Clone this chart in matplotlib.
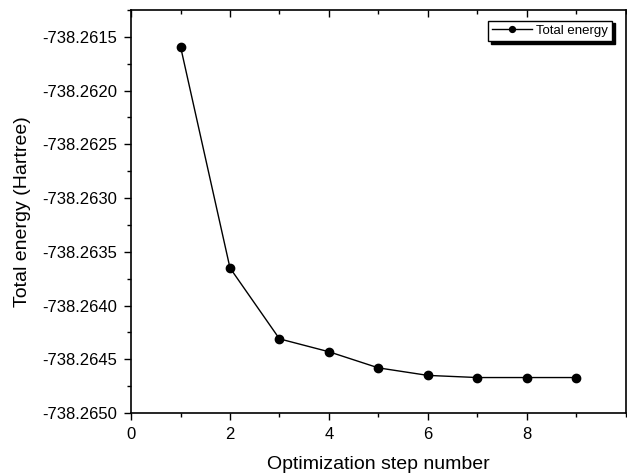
import matplotlib
matplotlib.use("Agg")
import matplotlib.pyplot as plt
from matplotlib.ticker import MultipleLocator, FormatStrFormatter, FixedLocator

plt.rcParams['font.family'] = ['Liberation Sans', 'DejaVu Sans']

# optimization steps and total energy (Hartree)
steps = [1, 2, 3, 4, 5, 6, 7, 8, 9]
energy = [-738.26159, -738.26365, -738.26431, -738.26443, -738.26458,
          -738.26465, -738.26467, -738.26467, -738.26467]
xticks = [0, 2, 4, 6, 8]

fig = plt.figure(figsize=(6.27, 4.75), dpi=100)
ax = fig.add_axes([0.209, 0.1305, 0.789, 0.8485])

ax.plot(steps, energy, color='black', lw=1, marker='o', ms=6, label='Total energy')

ax.set_xlim(0, 10)
ax.set_ylim(-738.2650, -738.26125)
ax.xaxis.set_major_locator(FixedLocator(xticks))
ax.xaxis.set_minor_locator(MultipleLocator(1))
ax.yaxis.set_major_locator(MultipleLocator(0.0005))
ax.yaxis.set_minor_locator(MultipleLocator(0.00025))
ax.yaxis.set_major_formatter(FormatStrFormatter('%.4f'))
ax.xaxis.set_major_formatter(FormatStrFormatter('%d'))

ax.tick_params(axis='both', which='major', labelsize=12, length=5, width=1,
               direction='out', pad=5)
ax.tick_params(axis='both', which='minor', length=3, width=1, direction='out')
ax.tick_params(axis='x', which='both', top=True)
for t in ax.xaxis.get_major_ticks() + ax.xaxis.get_minor_ticks():
    t.tick2line.set_marker(3)  # top ticks pointing inward
for s in ax.spines.values():
    s.set_linewidth(1.2)

ax.set_xlabel("Optimization step number", fontsize=14, labelpad=10)
ax.set_ylabel("Total energy (Hartree)", fontsize=14, labelpad=8)

leg = ax.legend(loc='upper right', fontsize=9.5, frameon=True,
                shadow={'color': 'black', 'alpha': 1},
                fancybox=False, handlelength=3, borderpad=0.3,
                markerscale=0.7, handletextpad=0.3,
                bbox_to_anchor=(0.985, 0.99))
leg.get_frame().set_edgecolor('black')
leg.get_frame().set_linewidth(1)

fig.savefig("out.png", dpi=100)
